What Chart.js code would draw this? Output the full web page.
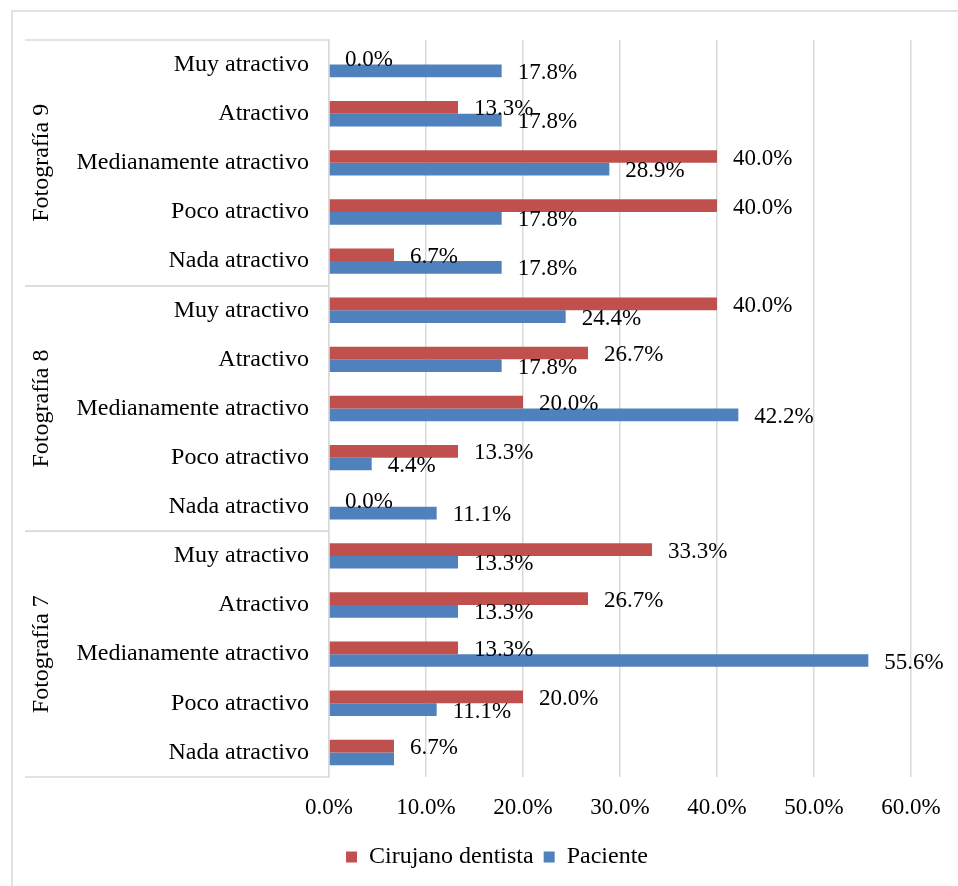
<!DOCTYPE html>
<html>
<head>
<meta charset="utf-8">
<script src="https://cdn.jsdelivr.net/npm/chart.js@4"></script>
<style>
  html, body { margin: 0; padding: 0; background: #ffffff; overflow: hidden; }
  #caja { position: relative; width: 982px; height: 886px; }
</style>
</head>
<body>
<div id="caja"><canvas id="grafico"></canvas></div>
<script>
const grupos = ["Fotografía 9", "Fotografía 8", "Fotografía 7"];
const niveles = ["Muy atractivo", "Atractivo", "Medianamente atractivo", "Poco atractivo", "Nada atractivo"];

// valores en %, en el orden de arriba hacia abajo
const cirujano = [0.0, 13.3, 40.0, 40.0, 6.7, 40.0, 26.7, 20.0, 13.3, 0.0, 33.3, 26.7, 13.3, 20.0, 6.7];
const paciente = [17.8, 17.8, 28.9, 17.8, 17.8, 24.4, 17.8, 42.2, 4.4, 11.1, 13.3, 13.3, 55.6, 11.1, 6.7];
const ticksEje = [0, 10, 20, 30, 40, 50, 60];
const ocultasPaciente = [14];

const etiquetas = [];
grupos.forEach(() => niveles.forEach((n) => etiquetas.push(n)));

const gris = "#d9d9d9";
const fuente = "'Liberation Serif', 'Times New Roman', serif";

const marcoYGrupos = {
  id: "marcoYGrupos",
  beforeDraw(chart) {
    const ctx = chart.ctx;
    ctx.save();
    ctx.strokeStyle = gris;
    ctx.lineWidth = 1.5;
    ctx.beginPath();
    ctx.moveTo(12, 886);
    ctx.lineTo(12, 11);
    ctx.lineTo(982, 11);
    ctx.stroke();
    ctx.restore();
  },
  afterDraw(chart) {
    const ctx = chart.ctx;
    const y = chart.scales.y;
    const area = chart.chartArea;
    const banda = (y.getPixelForValue(1) - y.getPixelForValue(0));
    ctx.save();
    ctx.strokeStyle = gris;
    ctx.lineWidth = 1.5;
    grupos.forEach((g, i) => {
      const primero = i * niveles.length;
      const ultimo = primero + niveles.length - 1;
      const arriba = y.getPixelForValue(primero) - banda / 2;
      const abajo = y.getPixelForValue(ultimo) + banda / 2;
      ctx.beginPath();
      ctx.moveTo(25, arriba);
      ctx.lineTo(area.left, arriba);
      ctx.moveTo(25, abajo);
      ctx.lineTo(area.left, abajo);
      ctx.stroke();
      ctx.save();
      ctx.translate(42, (arriba + abajo) / 2);
      ctx.rotate(-Math.PI / 2);
      ctx.fillStyle = "#000";
      ctx.font = "24px " + fuente;
      ctx.textAlign = "center";
      ctx.textBaseline = "middle";
      ctx.fillText(g, 0, 0);
      ctx.restore();
    });
    ctx.restore();
  },
  afterDatasetsDraw(chart) {
    const ctx = chart.ctx;
    ctx.save();
    ctx.fillStyle = "#000";
    ctx.font = "23px " + fuente;
    ctx.textAlign = "left";
    ctx.textBaseline = "middle";
    chart.data.datasets.forEach((ds, d) => {
      const meta = chart.getDatasetMeta(d);
      meta.data.forEach((bar, i) => {
        if (d === 1 && ocultasPaciente.includes(i)) return;
        ctx.fillText(ds.data[i].toFixed(1) + "%", bar.x + 16, bar.y + 2);
      });
    });
    ctx.restore();
  }
};

new Chart(document.getElementById("grafico"), {
  type: "bar",
  data: {
    labels: etiquetas,
    datasets: [
      { label: "Cirujano dentista", data: cirujano, backgroundColor: "#C0504D" },
      { label: "Paciente", data: paciente, backgroundColor: "#4F81BD" }
    ]
  },
  options: {
    indexAxis: "y",
    responsive: true,
    maintainAspectRatio: false,
    animation: false,
    barPercentage: 1,
    categoryPercentage: 0.517,
    layout: { padding: { left: 12, right: 0, top: 40, bottom: 7 } },
    plugins: {
      tooltip: { enabled: false },
      legend: {
        position: "bottom",
        labels: {
          color: "#000",
          font: { family: fuente, size: 24 },
          boxWidth: 11,
          boxHeight: 11,
          padding: 10
        }
      }
    },
    scales: {
      x: {
        min: 0,
        max: 60,
        afterBuildTicks(scale) {
          scale.ticks = ticksEje.map((v) => ({ value: v }));
        },
        afterFit(scale) { scale.height = 58; },
        grid: { color: gris, lineWidth: 1.5, drawTicks: false },
        border: { display: false },
        ticks: {
          color: "#000",
          padding: 17,
          font: { family: fuente, size: 23 },
          callback: (v) => v.toFixed(1) + "%"
        }
      },
      y: {
        afterFit(scale) { scale.width = 317; },
        grid: { display: false, drawTicks: false },
        border: { display: true, color: gris, width: 1.5 },
        ticks: {
          color: "#000",
          autoSkip: false,
          padding: 20,
          font: { family: fuente, size: 24 }
        }
      },
      derecha: {
        type: "category",
        position: "right",
        afterFit(scale) { scale.width = 71; },
        grid: { display: false, drawTicks: false },
        border: { display: false },
        ticks: { display: false }
      }
    }
  },
  plugins: [marcoYGrupos]
});
</script>
</body>
</html>
